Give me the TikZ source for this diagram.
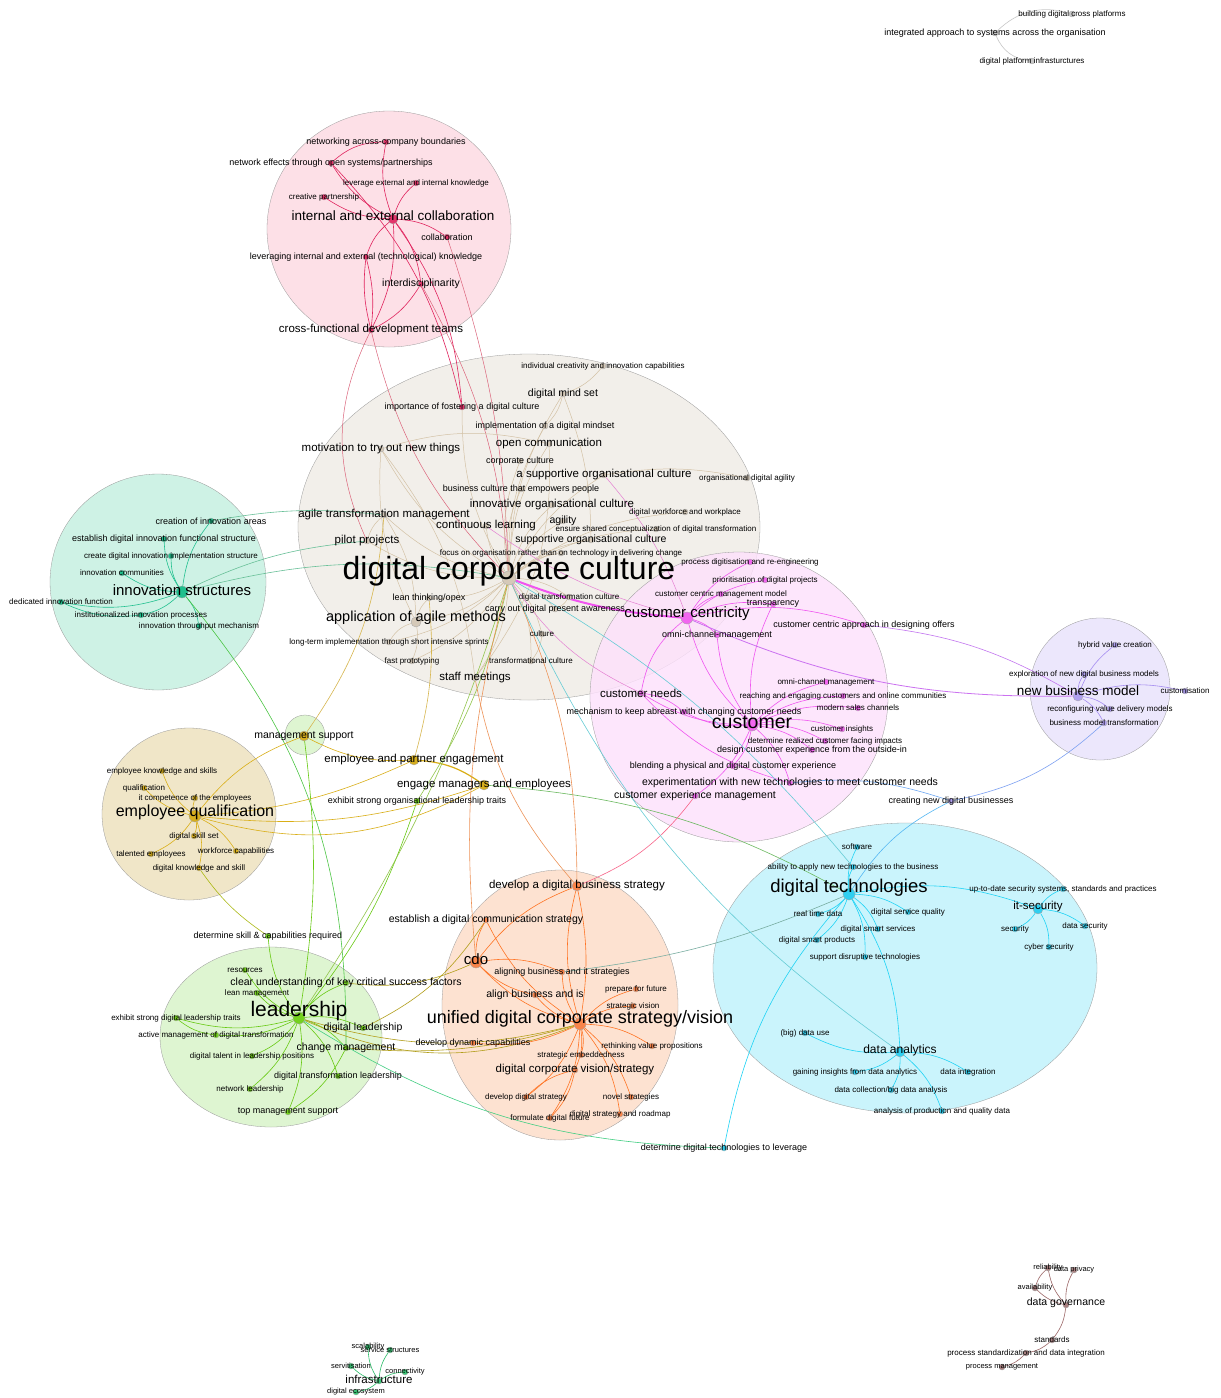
\documentclass[tikz,border=0pt]{standalone}
\usepackage{fontspec}
\setmainfont{Liberation Sans}
\usetikzlibrary{positioning}

\definecolor{culfill}{HTML}{F2EFEA}
\definecolor{culdot}{HTML}{D5C9B8}
\definecolor{culedge}{HTML}{D3C1A5}
\definecolor{colfill}{HTML}{FDE0E7}
\definecolor{coldot}{HTML}{E3346A}
\definecolor{coledge}{HTML}{E0245E}
\definecolor{cusfill}{HTML}{FDE1FC}
\definecolor{cusdot}{HTML}{F266F0}
\definecolor{cusedge}{HTML}{F055F0}
\definecolor{nbmfill}{HTML}{ECE7FC}
\definecolor{nbmdot}{HTML}{B0A0F0}
\definecolor{nbmedge}{HTML}{A58CF0}
\definecolor{innfill}{HTML}{CEF2E5}
\definecolor{inndot}{HTML}{1FBF8C}
\definecolor{innedge}{HTML}{21C08F}
\definecolor{empfill}{HTML}{F0E6C8}
\definecolor{empdot}{HTML}{D6AE1E}
\definecolor{empedge}{HTML}{D9AE16}
\definecolor{ledfill}{HTML}{DEF5D1}
\definecolor{leddot}{HTML}{74D11F}
\definecolor{lededge}{HTML}{66C910}
\definecolor{strfill}{HTML}{FDE2D1}
\definecolor{strdot}{HTML}{F8844A}
\definecolor{stredge}{HTML}{FF7424}
\definecolor{tecfill}{HTML}{CAF4FC}
\definecolor{tecdot}{HTML}{30CFF0}
\definecolor{tecedge}{HTML}{1ED3F5}
\definecolor{govdot}{HTML}{A88080}
\definecolor{govedge}{HTML}{9A6464}
\definecolor{infdot}{HTML}{3CC878}
\definecolor{infedge}{HTML}{2DBE6A}
\definecolor{grydot}{HTML}{C8C8C8}
\definecolor{gryedge}{HTML}{C8C8C8}

\pgfdeclarelayer{back}
\pgfdeclarelayer{edgelayer}
\pgfsetlayers{back,edgelayer,main}

\begin{document}
\begin{tikzpicture}[
x=1pt, y=-1pt,
dot/.style={circle, inner sep=0pt, minimum size=6pt, draw=black!35, line width=.35pt},
hub/.style={minimum size=10pt},
f7/.style={font=\fontsize{7.5}{8}\selectfont},
f8/.style={font=\fontsize{8}{9}\selectfont},
f9/.style={font=\fontsize{9}{10}\selectfont},
f10/.style={font=\fontsize{10.5}{11}\selectfont},
f11/.style={font=\fontsize{11.5}{12}\selectfont},
f14/.style={font=\fontsize{14.5}{15}\selectfont},
blob/.style={draw=black!40, line width=.3pt},
gry/.style={dot, fill=grydot},
cul/.style={dot, fill=culdot},
col/.style={dot, fill=coldot},
cus/.style={dot, fill=cusdot},
nbm/.style={dot, fill=nbmdot},
inn/.style={dot, fill=inndot},
emp/.style={dot, fill=empdot},
led/.style={dot, fill=leddot},
str/.style={dot, fill=strdot},
tec/.style={dot, fill=tecdot},
gov/.style={dot, fill=govdot},
inf/.style={dot, fill=infdot},
eGry/.style={draw=gryedge, line width=.6pt},
eCul/.style={draw=culedge, line width=.5pt},
eCol/.style={draw=coledge, line width=.6pt},
eCus/.style={draw=cusedge, line width=.6pt},
eNbm/.style={draw=nbmedge, line width=.6pt},
eInn/.style={draw=innedge, line width=.6pt},
eEmp/.style={draw=empedge, line width=.6pt},
eLed/.style={draw=lededge, line width=.6pt},
eStr/.style={draw=stredge, line width=.6pt},
eTec/.style={draw=tecedge, line width=.6pt},
eGov/.style={draw=govedge, line width=.6pt},
eInf/.style={draw=infedge, line width=.6pt}
]

\useasboundingbox (0,0) rectangle (1221,1398);

% cluster areas
\begin{pgfonlayer}{back}
\fill[white] (0,0) rectangle (1221,1398);
\fill[blob, fill=colfill] (389,229) ellipse [x radius=122pt, y radius=118pt];
\fill[blob, fill=culfill] (529,527) ellipse [x radius=231pt, y radius=173pt];
\fill[blob, fill=cusfill, fill opacity=.82] (739,697) ellipse [x radius=149pt, y radius=145pt];
\fill[blob, fill=nbmfill] (1100,689) ellipse [x radius=70pt, y radius=71pt];
\fill[blob, fill=innfill] (158,582) ellipse [x radius=108pt, y radius=108pt];
\fill[blob, fill=ledfill] (305,735) circle [radius=20pt];
\fill[blob, fill=empfill] (189,814) ellipse [x radius=87pt, y radius=86pt];
\fill[blob, fill=ledfill] (271,1037) ellipse [x radius=111pt, y radius=90pt];
\fill[blob, fill=strfill] (560,1005) ellipse [x radius=118pt, y radius=135pt];
\fill[blob, fill=tecfill] (905,968) ellipse [x radius=192pt, y radius=145pt];
\end{pgfonlayer}

% platforms
\node[gry, label={[f8]center:building digital cross platforms}] (bdcp) at (1072,14) {};
\node[gry, label={[f9]center:integrated approach to systems across the organisation}] (iasa) at (995,33) {};
\node[gry, label={[f8]center:digital platform infrasturctures}] (dpi) at (1032,61) {};

% collaboration
\node[col, label={[f9]center:networking across-company boundaries}] (ncb) at (386,142) {};
\node[col, label={[f9]center:network effects through open systems/partnerships}] (neos) at (331,163) {};
\node[col, label={[f8]center:leverage external and internal knowledge}] (leik) at (416,183) {};
\node[col, label={[f8]center:creative partnership}] (crp) at (324,197) {};
\node[col, hub, label={[font=\fontsize{13.5}{14}\selectfont, yshift=3pt]center:internal and external collaboration}] (iec) at (393,219) {};
\node[col, label={[f9]center:collaboration}] (colb) at (447,237) {};
\node[col, label={[f9]center:leveraging internal and external (technological) knowledge}] (liek) at (366,257) {};
\node[col, label={[f10]center:interdisciplinarity}] (intd) at (421,284) {};
\node[col, label={[f11]center:cross-functional development teams}] (cfdt) at (371,330) {};

% culture
\node[cul, label={[f8]center:individual creativity and innovation capabilities}] (icic) at (603,366) {};
\node[cul, label={[f10]center:digital mind set}] (dms) at (563,394) {};
\node[col, label={[f9]center:importance of fostering a digital culture}] (ifdc) at (462,407) {};
\node[cul, label={[f9]center:implementation of a digital mindset}] (iodm) at (545,426) {};
\node[cul, label={[f11]center:open communication}] (ocom) at (549,444) {};
\node[cul, label={[f11]center:motivation to try out new things}] (mtry) at (381,449) {};
\node[cul, label={[f9]center:corporate culture}] (ccul) at (520,461) {};
\node[cul, label={[f11]center:a supportive organisational culture}] (asoc) at (604,475) {};
\node[cul, label={[f8]center:organisational digital agility}] (oda) at (747,478) {};
\node[cul, label={[f9]center:business culture that empowers people}] (bcep) at (521,489) {};
\node[cul, label={[f11]center:innovative organisational culture}] (ioc) at (552,505) {};
\node[cul, label={[f8]center:digital workforce and workplace}] (dww) at (685,512) {};
\node[cul, label={[f11]center:agile transformation management}] (atm) at (384,515) {};
\node[cul, label={[f10]center:agility}] (agil) at (563,521) {};
\node[cul, label={[f11]center:continuous learning}] (clrn) at (486,526) {};
\node[cul, label={[f8]center:ensure shared conceptualization of digital transformation}] (escd) at (656,529) {};
\node[cul, label={[f10]center:supportive organisational culture}] (soc) at (591,540) {};
\node[cul, label={[f11]center:pilot projects}] (pilo) at (367,541) {};
\node[cul, label={[f8]center:focus on organisation rather than on technology in delivering change}] (forc) at (561,553) {};
\node[cul, minimum size=14pt, label={[font=\fontsize{32}{34}\selectfont, yshift=7pt]center:digital corporate culture}] (dcc) at (509,578) {};
\node[cul, label={[f9]center:lean thinking/opex}] (ltop) at (429,598) {};
\node[cul, label={[f8]center:digital transformation culture}] (dtc) at (569,597) {};
\node[cul, label={[f9]center:carry out digital present awareness}] (cdpa) at (555,609) {};
\node[cul, hub, label={[f14, yshift=4pt]center:application of agile methods}] (aam) at (416,622) {};
\node[cul, label={[f8]center:long-term implementation through short intensive sprints}] (ltis) at (389,642) {};
\node[cul, label={[f8]center:culture}] (cult) at (542,634) {};
\node[cul, label={[f8]center:fast prototyping}] (fpro) at (412,661) {};
\node[cul, label={[f8]center:transformational culture}] (tcul) at (531,661) {};
\node[cul, label={[f11]center:staff meetings}] (stfm) at (475,678) {};

% customer
\node[cus, label={[f8]center:process digitisation and re-engineering}] (pdre) at (750,562) {};
\node[cus, label={[f8]center:prioritisation of digital projects}] (pdp) at (765,580) {};
\node[cus, label={[f8]center:customer centric management model}] (ccmm) at (721,594) {};
\node[cus, label={[f9]center:transparency}] (trsp) at (773,604) {};
\node[cus, minimum size=12pt, label={[font=\fontsize{15}{16}\selectfont, yshift=4pt]center:customer centricity}] (ccen) at (687,618) {};
\node[cus, label={[f9]center:customer centric approach in designing offers}] (ccad) at (864,625) {};
\node[cus, label={[f9]center:omni-channel-management}] (ocm1) at (717,635) {};
\node[cus, label={[f8]center:omni-channel management}] (ocm2) at (826,682) {};
\node[cus, label={[f8]center:reaching and engaging customers and online communities}] (reco) at (843,696) {};
\node[cus, label={[f11]center:customer needs}] (cneed) at (641,693) {};
\node[cus, label={[f8]center:modern sales channels}] (msc) at (858,708) {};
\node[cus, label={[f9]center:mechanism to keep abreast with changing customer needs}] (mkac) at (684,712) {};
\node[cus, minimum size=12pt, label={[font=\fontsize{19.5}{20}\selectfont, yshift=3pt]center:customer}] (cust) at (752,725) {};
\node[cus, label={[f8]center:customer insights}] (cins) at (842,729) {};
\node[cus, label={[f8]center:determine realized customer facing impacts}] (drcf) at (825,741) {};
\node[cus, label={[f9]center:design customer experience from the outside-in}] (dceo) at (812,750) {};
\node[cus, label={[f9]center:blending a physical and digital customer experience}] (bpdc) at (733,766) {};
\node[cus, label={[f10]center:experimentation with new technologies to meet customer needs}] (expt) at (790,783) {};
\node[cus, label={[f10]center:customer experience management}] (cem) at (695,796) {};

% new business model
\node[nbm, label={[f8]center:hybrid value creation}] (hvc) at (1115,645) {};
\node[nbm, label={[f8]center:exploration of new digital business models}] (endbm) at (1084,674) {};
\node[nbm, hub, label={[font=\fontsize{13.5}{14}\selectfont, yshift=5pt]center:new business model}] (nbm) at (1078,696) {};
\node[nbm, label={[f8]center:customisation}] (cstm) at (1185,691) {};
\node[nbm, label={[f8]center:reconfiguring value delivery models}] (rvdm) at (1110,709) {};
\node[nbm, label={[f8]center:business model transformation}] (bmt) at (1104,723) {};
\node[nbm, label={[f9]center:creating new digital businesses}] (cndb) at (951,801) {};

% innovation structures
\node[inn, label={[f9]center:creation of innovation areas}] (cia) at (211,521) {};
\node[inn, label={[f9]center:establish digital innovation functional structure}] (edif) at (164,539) {};
\node[inn, label={[f8]center:create digital innovation implementation structure}] (cdii) at (171,556) {};
\node[inn, label={[f8]center:innovation communities}] (icom) at (122,573) {};
\node[inn, minimum size=12pt, label={[font=\fontsize{15}{16}\selectfont, yshift=2pt]center:innovation structures}] (inns) at (182,592) {};
\node[inn, label={[f8]center:dedicated innovation function}] (dif) at (61,602) {};
\node[inn, label={[f8]center:institutionalized innovation processes}] (iip) at (141,615) {};
\node[inn, label={[f8]center:innovation throughput mechanism}] (itm) at (199,626) {};

% employee qualification
\node[emp, hub, label={[f10]center:management support}] (msup) at (304,736) {};
\node[emp, label={[f8]center:employee knowledge and skills}] (eks) at (162,771) {};
\node[emp, label={[f8]center:qualification}] (qual) at (144,788) {};
\node[emp, label={[f8]center:it competence of the employees}] (itce) at (195,798) {};
\node[emp, minimum size=12pt, label={[font=\fontsize{16}{17}\selectfont, yshift=4pt]center:employee qualification}] (empq) at (195,816) {};
\node[emp, label={[f8]center:digital skill set}] (dss) at (194,836) {};
\node[emp, label={[f8]center:talented employees}] (tale) at (151,854) {};
\node[emp, label={[f8]center:workforce capabilities}] (wfc) at (236,851) {};
\node[emp, label={[f8]center:digital knowledge and skill}] (dks) at (199,868) {};
\node[emp, hub, label={[f11]center:employee and partner engagement}] (epe) at (414,760) {};
\node[emp, hub, label={[f11]center:engage managers and employees}] (eme) at (484,785) {};
\node[led, label={[f9]center:exhibit strong organisational leadership traits}] (esol) at (417,801) {};

% leadership
\node[led, label={[f9]center:determine skill \& capabilities required}] (dscr) at (268,936) {};
\node[led, label={[f8]center:resources}] (reso) at (245,970) {};
\node[led, label={[f10]center:clear understanding of key critical success factors}] (cukc) at (346,983) {};
\node[led, label={[f8]center:lean management}] (lman) at (257,993) {};
\node[led, minimum size=12pt, label={[font=\fontsize{21}{22}\selectfont, yshift=7pt]center:leadership}] (lead) at (299,1018) {};
\node[led, label={[f8]center:exhibit strong digital leadership traits}] (esdl) at (176,1018) {};
\node[led, label={[f10]center:digital leadership}] (dlea) at (363,1028) {};
\node[led, label={[f8]center:active management of digital transformation}] (amdt) at (216,1035) {};
\node[led, label={[f10]center:change management}] (chm) at (346,1048) {};
\node[led, label={[f8]center:digital talent in leadership positions}] (dtlp) at (252,1056) {};
\node[led, label={[f9]center:digital transformation leadership}] (dtl) at (338,1076) {};
\node[led, label={[f8]center:network leadership}] (nlea) at (250,1089) {};
\node[led, label={[f9]center:top management support}] (tms) at (288,1112) {};

% strategy
\node[str, hub, label={[f11]center:develop a digital business strategy}] (ddbs) at (577,886) {};
\node[str, label={[f10]center:establish a digital communication strategy}] (edcs) at (486,920) {};
\node[str, minimum size=12pt, label={[font=\fontsize{15}{16}\selectfont, yshift=3pt]center:cdo}] (cdo) at (476,962) {};
\node[str, label={[f9]center:aligning business and it strategies}] (abit) at (562,972) {};
\node[str, label={[f8]center:prepare for future}] (pff) at (636,989) {};
\node[str, label={[f10]center:align business and is}] (abis) at (535,995) {};
\node[str, label={[f8]center:strategic vision}] (sviz) at (633,1006) {};
\node[str, minimum size=12pt, label={[font=\fontsize{18}{19}\selectfont, yshift=5pt]center:unified digital corporate strategy/vision}] (udcs) at (580,1024) {};
\node[str, label={[f9]center:develop dynamic capabilities}] (ddc) at (473,1043) {};
\node[str, label={[f8]center:rethinking value propositions}] (rvp) at (652,1046) {};
\node[str, label={[f8]center:strategic embeddedness}] (semb) at (581,1055) {};
\node[str, label={[f11]center:digital corporate vision/strategy}] (dcvs) at (575,1070) {};
\node[str, label={[f8]center:develop digital strategy}] (dds) at (526,1097) {};
\node[str, label={[f8]center:novel strategies}] (nstr) at (631,1097) {};
\node[str, label={[f8]center:formulate digital future}] (fdf) at (550,1118) {};
\node[str, label={[f8]center:digital strategy and roadmap}] (dsr) at (620,1114) {};

% digital technologies
\node[tec, label={[f8]center:software}] (soft) at (857,847) {};
\node[tec, label={[f8]center:ability to apply new technologies to the business}] (antb) at (853,867) {};
\node[tec, minimum size=12pt, label={[font=\fontsize{18.5}{19}\selectfont, yshift=6pt]center:digital technologies}] (dtec) at (849,894) {};
\node[tec, label={[f8]center:{up-to-date security systems, standards and practices}}] (udss) at (1063,889) {};
\node[tec, hub, label={[f11, yshift=2pt]center:it-security}] (itsec) at (1038,909) {};
\node[tec, label={[f8]center:real time data}] (rtd) at (818,914) {};
\node[tec, label={[f8]center:digital service quality}] (dsq) at (908,912) {};
\node[tec, label={[f8]center:digital smart services}] (dsms) at (878,929) {};
\node[tec, label={[f8]center:security}] (secu) at (1015,929) {};
\node[tec, label={[f8]center:data security}] (dsec) at (1085,926) {};
\node[tec, label={[f8]center:digital smart products}] (dspr) at (817,940) {};
\node[tec, label={[f8]center:cyber security}] (cysec) at (1049,947) {};
\node[tec, label={[f8]center:support disruptive technologies}] (sdt) at (865,957) {};
\node[tec, label={[f8]center:(big) data use}] (bdu) at (805,1033) {};
\node[tec, hub, label={[font=\fontsize{12}{13}\selectfont, yshift=2pt]center:data analytics}] (dana) at (900,1052) {};
\node[tec, label={[f8]center:gaining insights from data analytics}] (gida) at (855,1072) {};
\node[tec, label={[f8]center:data integration}] (dint) at (968,1072) {};
\node[tec, label={[f8]center:data collection/big data analysis}] (dcba) at (891,1090) {};
\node[tec, label={[f8]center:analysis of production and quality data}] (apqd) at (942,1111) {};
\node[tec, label={[f9]center:determine digital technologies to leverage}] (ddtl) at (724,1148) {};

% data governance
\node[gov, label={[f7]center:reliability}] (reli) at (1048,1268) {};
\node[gov, label={[f7]center:data privacy}] (dpri) at (1074,1270) {};
\node[gov, label={[f7]center:availability}] (avai) at (1035,1288) {};
\node[gov, label={[f10, yshift=2pt]center:data governance}] (dgov) at (1066,1305) {};
\node[gov, label={[f8]center:standards}] (stds) at (1052,1340) {};
\node[gov, label={[f8]center:process standardization and data integration}] (psdi) at (1026,1353) {};
\node[gov, label={[f7]center:process management}] (pman) at (1002,1367) {};

% infrastructure
\node[inf, label={[f7]center:scalability}] (scal) at (368,1347) {};
\node[inf, label={[f7]center:service structures}] (sstr) at (390,1350) {};
\node[inf, label={[f7]center:servitisation}] (serv) at (351,1366) {};
\node[inf, label={[f7]center:connectivity}] (conn) at (405,1372) {};
\node[inf, label={[f11, yshift=2pt]center:infrastructure}] (infra) at (379,1381) {};
\node[inf, label={[f7]center:digital ecosystem}] (deco) at (356,1392) {};

\begin{pgfonlayer}{edgelayer}
% platforms
\draw[eGry] (iasa) to[bend left=30] (bdcp);
\draw[eGry] (iasa) to[bend right=30] (dpi);

% collaboration
\foreach \t in {ncb,neos,leik,crp,colb,intd,cfdt,ifdc}
  \draw[eCol] (iec) to[bend left=15] (\t);
\draw[eCol] (iec) to[bend right=15] (liek);
\draw[eCol] (neos) to[bend left=20] (ncb);
\draw[eCol] (cfdt) to[bend left=10] (liek);
\draw[eCol] (cfdt) to[bend right=10] (liek);
\draw[eCol] (cfdt) to[bend right=15] (intd);
\draw[eCol] (neos) to[bend left=15] (ifdc);
\draw[draw=coledge!60!culedge, line width=.5pt] (colb) to[bend left=8] (dcc);
\draw[draw=coledge!60!culedge, line width=.5pt] (cfdt) to[bend right=15] (dcc);
\draw[draw=coledge!60!culedge, line width=.5pt] (intd) to[bend left=12] (dcc);
\draw[draw=coledge!60!culedge, line width=.5pt] (cfdt) to[bend right=25] (pilo);

% culture
\foreach \t in {dms,ifdc,iodm,ocom,mtry,ccul,asoc,bcep,ioc,dww,atm,agil,clrn,escd,soc,pilo,forc,ltop,dtc,cdpa,aam,ltis,cult,fpro,tcul,stfm}
  \draw[eCul] (dcc) to[bend left=15] (\t);
\draw[eCul] (icic) to[bend left=15] (dms);
\draw[eCul] (dms) to[bend left=15] (iodm);
\draw[eCul] (dms) to[bend left=10] (soc);
\draw[eCul] (oda) to[bend right=10] (asoc);
\draw[eCul] (mtry) to[bend left=15] (ocom);
\draw[eCul] (mtry) to[bend left=15] (stfm);
\draw[eCul] (mtry) to[bend right=15] (aam);
\draw[eCul] (atm) to[bend right=15] (pilo);
\draw[eCul] (atm) to[bend left=15] (aam);
\draw[eCul] (aam) to[bend right=20] (ltis);
\draw[eCul] (aam) to[bend left=15] (fpro);
\draw[eCul] (aam) to[bend left=15] (ltop);
\draw[eCul] (stfm) to[bend right=20] (ocom);
\draw[eCul] (tcul) to[bend right=15] (cult);
\draw[eCul] (cdpa) to[bend right=15] (dtc);

% customer
\foreach \t in {pdre,pdp,ccmm,trsp,ocm1,ccad}
  \draw[eCus] (ccen) to[bend left=15] (\t);
\draw[eCus, line width=2pt] (dcc) to[bend right=8] (ccen);
\draw[draw=cusedge!60!culedge, line width=.5pt] (clrn) to[bend right=10] (ccen);
\draw[draw=cusedge!60!culedge, line width=.5pt] (asoc) to[bend left=10] (ccen);
\draw[draw=cusedge!60!culedge, line width=.5pt] (dcc) to[bend right=15] (cneed);
\foreach \t in {ocm1,ocm2,reco,cneed,msc,mkac,cins,drcf,dceo,bpdc,expt,cem,ccen,trsp}
  \draw[eCus] (cust) to[bend left=15] (\t);
\draw[eCus] (cneed) to[bend left=15] (mkac);
\draw[eCus] (cneed) to[bend right=15] (expt);
\draw[eCus] (ccen) to[bend right=20] (cneed);

% new business model
\foreach \t in {hvc,endbm,cstm,rvdm,bmt}
  \draw[eNbm] (nbm) to[bend left=15] (\t);
\draw[draw=nbmedge!50!cusedge, line width=.8pt] (ccen) to[bend right=12] (nbm);
\draw[draw=nbmedge!60!cusedge, line width=.6pt] (ccad) to[bend left=12] (nbm);
\draw[draw=nbmedge!70!tecedge, line width=.6pt] (cndb) to[bend right=15] (bmt);
\draw[draw=nbmedge!60!tecedge, line width=.6pt] (expt) to[bend left=12] (cndb);
\draw[draw=nbmedge!40!tecedge, line width=.6pt] (cndb) to[bend right=15] (dtec);

% innovation structures
\foreach \t in {cia,edif,cdii,icom,dif,iip,itm}
  \draw[eInn] (inns) to[bend left=15] (\t);
\draw[eInn] (dif) to[bend right=15] (iip);
\draw[draw=innedge!60!culedge, line width=.6pt] (cia) to[bend left=8] (atm);
\draw[draw=innedge!60!culedge, line width=.6pt] (inns) to[bend left=10] (pilo);
\draw[draw=innedge!60!culedge, line width=.6pt] (inns) to[bend left=12] (dcc);
\draw[draw=innedge!40!lededge, line width=.6pt] (inns) to[bend left=20] (chm);

% employee qualification
\foreach \t in {eks,qual,itce,dss,tale,wfc,dks}
  \draw[eEmp] (empq) to[bend left=15] (\t);
\draw[eEmp] (empq) to[bend left=15] (msup);
\draw[eEmp] (empq) to[bend right=10] (epe);
\draw[eEmp] (empq) to[bend right=12] (eme);
\draw[eEmp] (empq) to[bend right=22] (eme);
\draw[eEmp] (msup) to[bend right=15] (epe);
\draw[eEmp, line width=1.2pt] (epe) to[bend left=15] (eme);
\draw[draw=empedge!60!culedge, line width=.6pt] (msup) to[bend right=15] (atm);
\draw[draw=empedge!60!culedge, line width=.6pt] (epe) to[bend right=10] (ltop);
\draw[draw=empedge!60!lededge, line width=.6pt] (dks) to[bend right=10] (dscr);
\draw[draw=innedge!60!empedge, line width=.6pt] (eme) to[bend left=12] (dtec);
\draw[draw=lededge!60!culedge, line width=.6pt] (esol) to[bend right=10] (dcc);
\draw[eLed] (esol) to[bend left=10] (lead);
\draw[eLed] (msup) to[bend left=8] (lead);

% leadership
\foreach \t in {dscr,reso,cukc,lman,esdl,dlea,amdt,chm,dtlp,dtl,nlea,tms}
  \draw[eLed] (lead) to[bend left=15] (\t);
\draw[eLed] (esdl) to[bend right=15] (amdt);
\draw[eLed] (chm) to[bend left=15] (tms);
\draw[draw=lededge!50!stredge, line width=.6pt] (cukc) to[bend right=15] (cdo);
\draw[draw=lededge!50!stredge, line width=.6pt] (dlea) to[bend right=15] (edcs);
\draw[draw=lededge!50!stredge, line width=.6pt] (lead) to[bend right=15] (udcs);
\draw[draw=lededge!50!stredge, line width=.6pt] (lead) to[bend right=22] (udcs);
\draw[draw=lededge!50!stredge, line width=.6pt] (chm) to[bend right=10] (udcs);
\draw[draw=lededge!50!tecedge, line width=.6pt] (lead) to[bend right=15] (ddtl);
\draw[draw=lededge!60!culedge, line width=.6pt] (lead) to[bend right=8] (dcc);

% strategy
\foreach \t in {ddbs,edcs,cdo,abit,pff,abis,sviz,ddc,rvp,semb,dcvs,dds,nstr,fdf,dsr}
  \draw[eStr] (udcs) to[bend left=15] (\t);
\draw[eStr] (cdo) to[bend left=15] (abit);
\draw[eStr] (cdo) to[bend left=15] (ddbs);
\draw[eStr] (cdo) to[bend left=15] (edcs);
\draw[eStr] (cdo) to[bend right=15] (abis);
\draw[eStr] (dcvs) to[bend right=15] (dds);
\draw[eStr] (dcvs) to[bend left=15] (fdf);
\draw[eStr] (udcs) to[bend right=10] (ddbs);
\draw[draw=stredge!60!culedge, line width=.6pt] (ddbs) to[bend right=12] (dcc);
\draw[draw=stredge!60!culedge, line width=.6pt] (cdo) to[bend left=10] (dcc);
\draw[draw=stredge!60!culedge, line width=.6pt] (ddbs) to[bend left=15] (stfm);
\draw[draw=stredge!50!cusedge, line width=.6pt] (ddbs) to[bend right=15] (cem);
\draw[draw=stredge!40!tecedge, line width=.6pt] (abit) to[bend right=8] (dtec);

% digital technologies
\foreach \t in {soft,antb,rtd,dsq,dsms,dspr,sdt,itsec,dana}
  \draw[eTec] (dtec) to[bend left=15] (\t);
\draw[eTec] (dtec) to[bend right=15] (ddtl);
\foreach \t in {udss,secu,dsec,cysec}
  \draw[eTec] (itsec) to[bend left=15] (\t);
\foreach \t in {bdu,gida,dint,dcba,apqd}
  \draw[eTec] (dana) to[bend left=15] (\t);
\draw[draw=tecedge!60!culedge, line width=.6pt] (antb) to[bend right=10] (dcc);
\draw[draw=tecedge!60!culedge, line width=.6pt] (dcc) to[bend right=15] (dana);

% data governance
\foreach \t in {reli,dpri,avai,stds}
  \draw[eGov] (dgov) to[bend left=15] (\t);
\draw[eGov] (stds) to[bend left=15] (psdi);
\draw[eGov] (psdi) to[bend left=15] (pman);
\draw[eGov] (reli) to[bend right=15] (avai);

% infrastructure
\foreach \t in {scal,sstr,serv,conn,deco}
  \draw[eInf] (infra) to[bend left=15] (\t);
\end{pgfonlayer}

\end{tikzpicture}
\end{document}
